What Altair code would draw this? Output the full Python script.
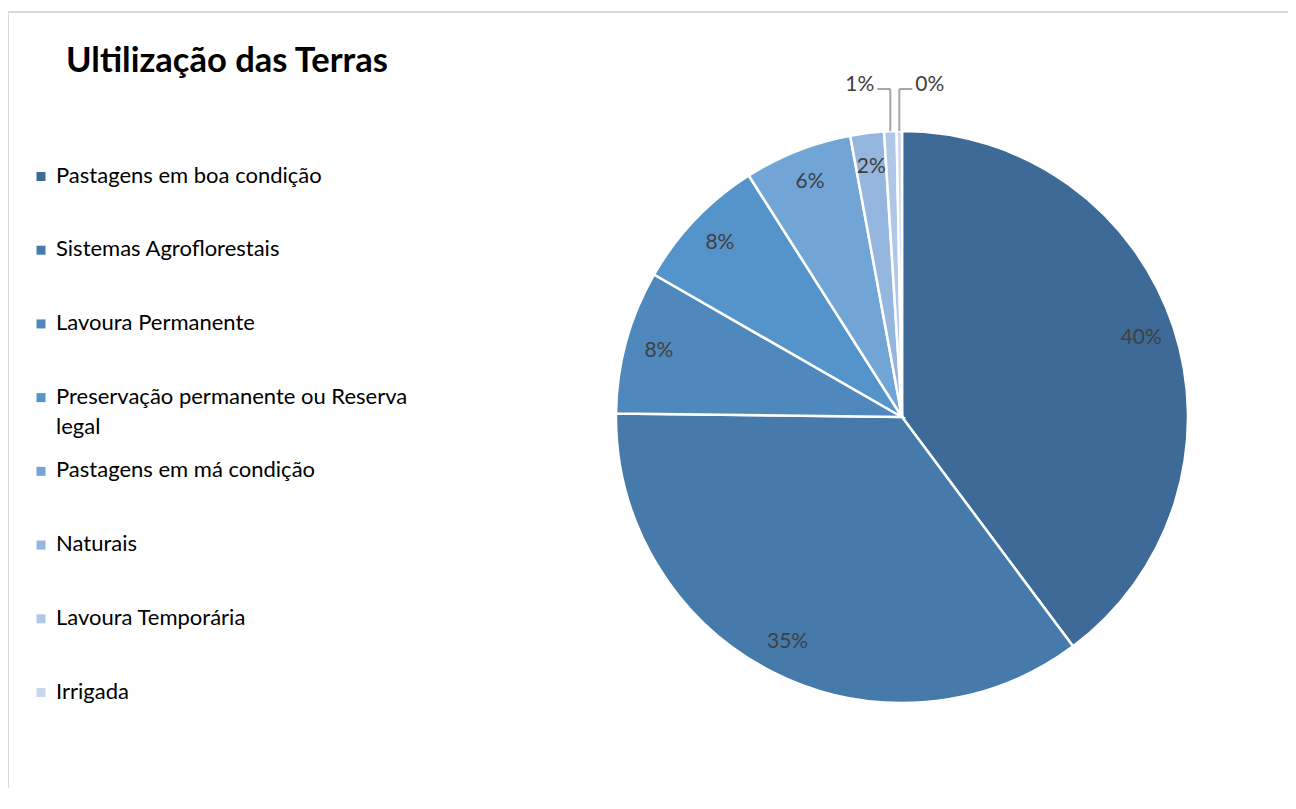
import altair as alt
import pandas as pd

categories = [
    "Pastagens em boa condição",
    "Sistemas Agroflorestais",
    "Lavoura Permanente",
    "Preservação permanente ou Reserva legal",
    "Pastagens em má condição",
    "Naturais",
    "Lavoura Temporária",
    "Irrigada",
]
legend_labels = [
    "Pastagens em boa condição",
    "Sistemas Agroflorestais",
    "Lavoura Permanente",
    "Preservação permanente ou Reserva\nlegal",
    "Pastagens em má condição",
    "Naturais",
    "Lavoura Temporária",
    "Irrigada",
]
values = [39.8, 35.4, 8.1, 7.7, 6.1, 1.9, 0.7, 0.3]
colors = ["#3D6A96", "#467AAB", "#4E88BC", "#5594CB", "#71A5D6", "#95B6DE", "#B0C8E7", "#C8D7EE"]
title_text = "Ultilização das Terras"

df = pd.DataFrame({
    "category": categories,
    "legend_label": legend_labels,
    "value": values,
    "order": list(range(len(categories))),
})

W, H = 1280, 780
CX, CY, R = 894, 409, 286
ELBOW_Y = 81
FONT = "Lato"
LABEL_COLOR = "#404040"
LEADER_COLOR = "#A6A6A6"

color_scale = alt.Scale(domain=categories, range=colors)
one = pd.DataFrame({"k": [0]})

base = alt.Chart(df).transform_joinaggregate(total="sum(value)").transform_calculate(
    pct="format(datum.value / datum.total, '.0%')"
)

# border (top and left of Excel chart area)
border_top = alt.Chart(one).mark_rule(color="#D9D9D9", strokeWidth=2).encode(
    x=alt.value(0), x2=alt.value(W), y=alt.value(4)
)
border_left = alt.Chart(one).mark_rule(color="#D9D9D9", strokeWidth=2).encode(
    x=alt.value(0), y=alt.value(4), y2=alt.value(H)
)

title = alt.Chart(one).mark_text(
    text=title_text, font=FONT, fontSize=34.5, fontWeight="bold", color="#000000",
    align="left", baseline="alphabetic"
).encode(x=alt.value(58), y=alt.value(64))

arcs = base.mark_arc(radius=R, stroke="white", strokeWidth=2.5).encode(
    theta=alt.Theta("value:Q", stack=True),
    color=alt.Color("category:N", scale=color_scale, legend=None),
    order=alt.Order("order:Q"),
    x=alt.value(CX), y=alt.value(CY),
)

inside_labels = base.transform_calculate(
    lbl="datum.value >= 1.5 ? datum.pct : ''"
).mark_text(radius=252, font=FONT, fontSize=21, color=LABEL_COLOR).encode(
    theta=alt.Theta("value:Q", stack=True),
    detail="category:N",
    order=alt.Order("order:Q"),
    text="lbl:N",
    x=alt.value(CX), y=alt.value(CY),
)

# leader-line geometry derived from the data
lead = base.transform_window(
    cum="sum(value)", sort=[alt.SortField("order", order="ascending")]
).transform_calculate(
    mid="(datum.cum - datum.value / 2) / datum.total * 2 * PI",
    px=f"{CX} + {R} * sin(datum.mid)",
    py=f"{CY} - {R} * cos(datum.mid)",
    ey=f"{ELBOW_Y}",
)

small_left = lead.transform_filter(alt.datum.category == categories[6])
small_right = lead.transform_filter(alt.datum.category == categories[7])

def leader(src, side):
    vert = src.mark_rule(color=LEADER_COLOR, strokeWidth=2).encode(
        x=alt.X("px:Q", scale=None),
        y=alt.Y("py:Q", scale=None),
        y2="ey:Q",
    )
    horiz = src.transform_calculate(px2=f"datum.px + {side} * 13").mark_rule(
        color=LEADER_COLOR, strokeWidth=2
    ).encode(
        x=alt.X("px:Q", scale=None),
        x2="px2:Q",
        y=alt.Y("ey:Q", scale=None),
    )
    txt = src.transform_calculate(
        tx=f"datum.px + {side} * 16", ty="datum.ey - 4"
    ).mark_text(
        font=FONT, fontSize=21, color=LABEL_COLOR,
        align="right" if side < 0 else "left", baseline="middle"
    ).encode(
        x=alt.X("tx:Q", scale=None),
        y=alt.Y("ty:Q", scale=None),
        text="pct:N",
    )
    return [vert, horiz, txt]

legend_y = alt.Y(
    "category:N", sort=categories, axis=None,
    scale=alt.Scale(type="point", domain=categories, range=[168.5, 684.5], padding=0),
)
legend_squares = alt.Chart(df).mark_square(size=81, opacity=1).encode(
    x=alt.value(33), y=legend_y,
    color=alt.Color("category:N", scale=color_scale, legend=None),
)
legend_text = alt.Chart(df).mark_text(
    font=FONT, fontSize=22, color="#000000", align="left", baseline="alphabetic",
    dy=6, lineBreak="\n", lineHeight=30
).encode(x=alt.value(48), y=legend_y, text="legend_label:N")

layers = [border_top, border_left, title, arcs, inside_labels] + leader(small_left, -1) + leader(small_right, 1) + [legend_squares, legend_text]

chart = alt.layer(*layers).resolve_scale(
    x="independent", y="independent"
).properties(
    width=W, height=H, padding=0, autosize=alt.AutoSizeParams(type="none"),
    background="white",
).configure_view(stroke=None)

chart.save("out.html", embed_options={"renderer": "svg", "actions": False})
